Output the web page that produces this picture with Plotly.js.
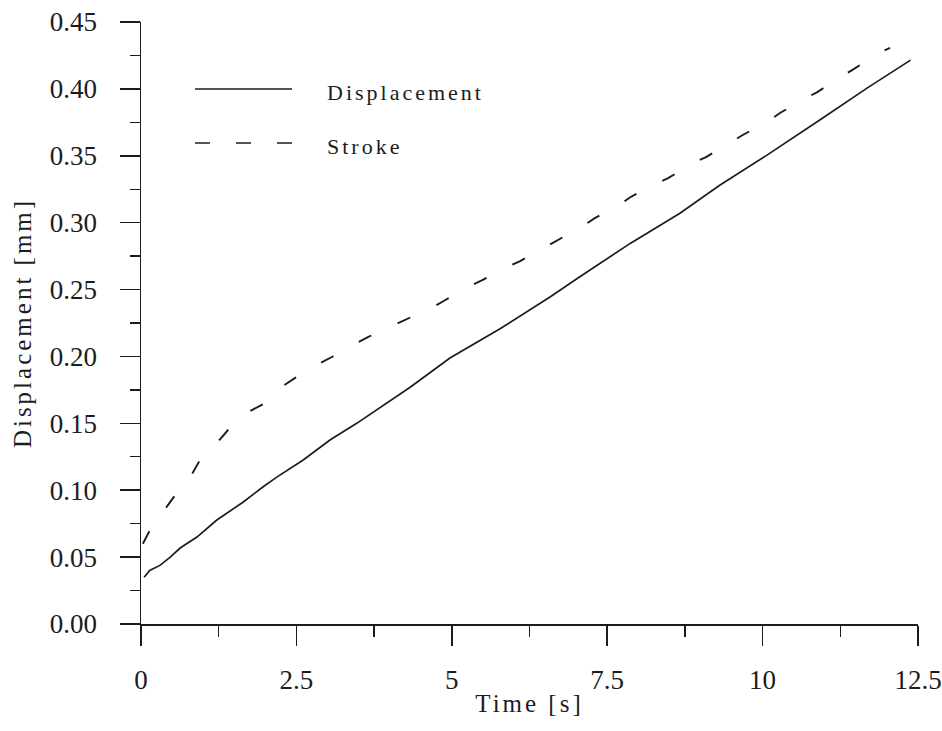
<!DOCTYPE html>
<html>
<head>
<meta charset="utf-8">
<script src="https://cdn.plot.ly/plotly-3.0.1.min.js"></script>
<style>
html, body { margin: 0; padding: 0; background: #fff; }
#chart { width: 942px; height: 731px; }
.annotation-text { letter-spacing: 3px; }
.xtitle, .ytitle { letter-spacing: 3px; }
</style>
</head>
<body>
<div id="chart"></div>
<script>
// Displacement (solid) series
var timeDisp = [0.05, 0.14, 0.31, 0.47, 0.63, 0.9, 1.22, 1.64, 1.96, 2.19, 2.61, 3.04, 3.47, 3.81, 4.33, 4.97, 5.77, 6.58, 7.06, 7.87, 8.67, 9.31, 10.07, 10.92, 11.68, 12.38];
var dispValues = [0.035, 0.040, 0.044, 0.050, 0.0568, 0.065, 0.0777, 0.091, 0.1024, 0.110, 0.1226, 0.1375, 0.150, 0.1607, 0.177, 0.1988, 0.2205, 0.2444, 0.2596, 0.2845, 0.307, 0.328, 0.3505, 0.3767, 0.4006, 0.4215];

// Stroke (dashed) series
var timeStroke = [0.03, 0.13, 0.40, 0.53, 0.82, 0.93, 1.25, 1.40, 1.75, 1.95, 2.32, 2.48, 2.88, 3.07, 3.47, 3.65, 4.07, 4.28, 4.70, 4.89, 5.29, 5.49, 5.89, 6.10, 6.50, 6.69, 7.11, 7.30, 7.69, 7.87, 8.27, 8.48, 8.88, 9.09, 9.49, 9.68, 10.09, 10.28, 10.65, 10.88, 11.25, 11.44, 11.84, 12.05];
var strokeValues = [0.060, 0.069, 0.0867, 0.095, 0.112, 0.121, 0.137, 0.145, 0.159, 0.164, 0.179, 0.184, 0.195, 0.1996, 0.210, 0.2145, 0.2235, 0.228, 0.237, 0.242, 0.2526, 0.257, 0.2668, 0.2713, 0.2818, 0.287, 0.2975, 0.3034, 0.313, 0.319, 0.3289, 0.3333, 0.3445, 0.349, 0.360, 0.3655, 0.376, 0.382, 0.392, 0.3976, 0.4088, 0.414, 0.426, 0.4307];

var seriesNames = ["Displacement", "Stroke"];
var xTitle = "Time [s]";
var yTitle = "Displacement [mm]";

var ink = "#1c1c1c";
var serif = "'Liberation Serif', 'Times New Roman', serif";

var traces = [
  {x: timeDisp, y: dispValues, mode: "lines", name: seriesNames[0],
   line: {color: ink, width: 1.7}},
  {x: timeStroke, y: strokeValues, mode: "lines", name: seriesNames[1],
   line: {color: ink, width: 1.9, dash: "14px,29px"}}
];

var layout = {
  width: 942, height: 731,
  margin: {l: 141, r: 24, t: 22, b: 107},
  paper_bgcolor: "#fff", plot_bgcolor: "#fff",
  showlegend: false,
  font: {family: serif, color: ink},
  xaxis: {
    range: [0, 12.5], dtick: 2.5, tick0: 0,
    showgrid: false, zeroline: false,
    showline: true, linecolor: ink, linewidth: 1.5,
    ticks: "outside", ticklen: 20, tickwidth: 1.5, tickcolor: ink,
    minor: {dtick: 1.25, ticks: "outside", ticklen: 11, tickwidth: 1.3, tickcolor: ink, showgrid: false},
    tickfont: {family: serif, size: 27, color: ink},
    ticklabelstandoff: 11,
    title: {text: xTitle, font: {family: serif, size: 25, color: ink}, standoff: 0}
  },
  yaxis: {
    range: [0, 0.45], dtick: 0.05, tick0: 0, tickformat: ".2f",
    showgrid: false, zeroline: false,
    showline: true, linecolor: ink, linewidth: 1.5,
    ticks: "outside", ticklen: 20, tickwidth: 1.5, tickcolor: ink,
    minor: {dtick: 0.025, ticks: "outside", ticklen: 10, tickwidth: 1.3, tickcolor: ink, showgrid: false},
    tickfont: {family: serif, size: 27, color: ink},
    ticklabelstandoff: 17,
    title: {text: yTitle, font: {family: serif, size: 25, color: ink}, standoff: 11}
  },
  shapes: [
    {type: "line", xref: "paper", yref: "paper", x0: 0.0695, x1: 0.1943, y0: 0.8887, y1: 0.8887,
     line: {color: ink, width: 1.5}},
    {type: "line", xref: "paper", yref: "paper", x0: 0.0695, x1: 0.1943, y0: 0.799, y1: 0.799,
     line: {color: ink, width: 1.5, dash: "15px,26px"}}
  ],
  annotations: [
    {xref: "paper", yref: "paper", x: 0.2368, y: 0.8837, xanchor: "left", yanchor: "middle",
     text: seriesNames[0], showarrow: false, font: {family: serif, size: 22, color: ink}},
    {xref: "paper", yref: "paper", x: 0.2368, y: 0.7924, xanchor: "left", yanchor: "middle",
     text: seriesNames[1], showarrow: false, font: {family: serif, size: 22, color: ink}}
  ]
};

Plotly.newPlot("chart", traces, layout, {displayModeBar: false, staticPlot: true});
</script>
</body>
</html>
